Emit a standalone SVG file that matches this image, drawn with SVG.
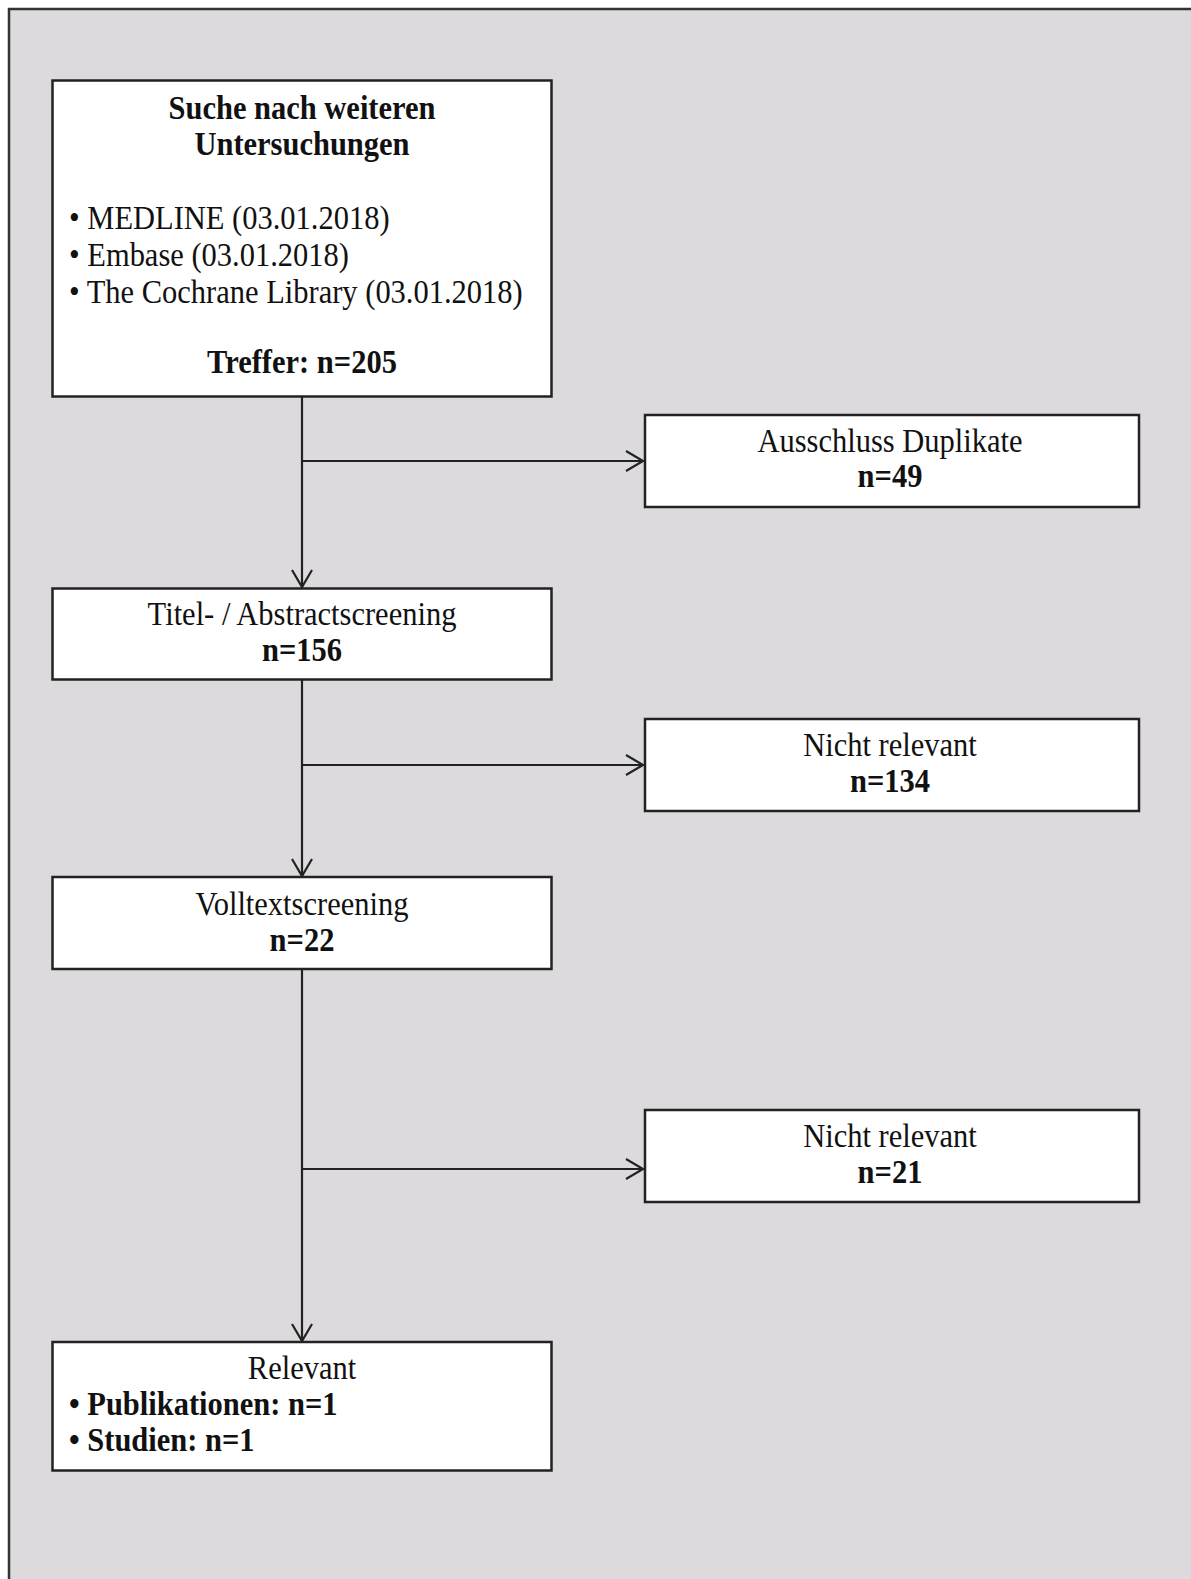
<svg xmlns="http://www.w3.org/2000/svg" width="1191" height="1579" viewBox="0 0 1191 1579">
<style>
  .frame { fill: #dcdadd; stroke: #333; stroke-width: 2.5; }
  .box { fill: #ffffff; stroke: #222; stroke-width: 2.5; }
  .t { font-family: "Liberation Serif", "Times New Roman", serif; font-size: 30.5px; fill: #111; }
  .c { text-anchor: middle; }
  .b { font-weight: bold; }
  .edge { fill: none; stroke: #222; stroke-width: 2.2; }
</style>
<defs>
  <marker id="arr" markerUnits="userSpaceOnUse" markerWidth="24" markerHeight="26" refX="19" refY="12" orient="auto">
    <path d="M2,2 L19,12 L2,22" fill="none" stroke="#222" stroke-width="2.2"/>
  </marker>
</defs>
<rect x="0" y="0" width="1191" height="1579" fill="#ffffff"/>
<rect class="frame" x="9" y="9" width="1200" height="1600"/>

<g id="connectors">
  <line class="edge" x1="302" y1="397" x2="302" y2="587" marker-end="url(#arr)"/>
  <line class="edge" x1="302" y1="461" x2="643" y2="461" marker-end="url(#arr)"/>
  <line class="edge" x1="302" y1="680" x2="302" y2="876" marker-end="url(#arr)"/>
  <line class="edge" x1="302" y1="765" x2="643" y2="765" marker-end="url(#arr)"/>
  <line class="edge" x1="302" y1="969" x2="302" y2="1341" marker-end="url(#arr)"/>
  <line class="edge" x1="302" y1="1169" x2="643" y2="1169" marker-end="url(#arr)"/>
</g>

<g id="node-search">
  <rect class="box" x="52.5" y="80.5" width="499" height="316"/>
  <text class="t c b" transform="translate(302 119) scale(1 1.1)">Suche nach weiteren</text>
  <text class="t c b" transform="translate(302 155) scale(1 1.1)">Untersuchungen</text>
  <text class="t" transform="translate(69 229) scale(1 1.1)">• MEDLINE (03.01.2018)</text>
  <text class="t" transform="translate(69 266) scale(1 1.1)">• Embase (03.01.2018)</text>
  <text class="t" transform="translate(69 303) scale(1 1.1)">• The Cochrane Library (03.01.2018)</text>
  <text class="t c b" transform="translate(302 373) scale(1 1.1)">Treffer: n=205</text>
</g>

<g id="node-duplicates">
  <rect class="box" x="645" y="415" width="494" height="92"/>
  <text class="t c" transform="translate(890 452) scale(1 1.1)">Ausschluss Duplikate</text>
  <text class="t c b" transform="translate(890 487) scale(1 1.1)">n=49</text>
</g>

<g id="node-title">
  <rect class="box" x="52.5" y="588.5" width="499" height="91"/>
  <text class="t c" transform="translate(302 625) scale(1 1.1)">Titel- / Abstractscreening</text>
  <text class="t c b" transform="translate(302 661) scale(1 1.1)">n=156</text>
</g>

<g id="node-notrelevant1">
  <rect class="box" x="645" y="719" width="494" height="92"/>
  <text class="t c" transform="translate(890 756) scale(1 1.1)">Nicht relevant</text>
  <text class="t c b" transform="translate(890 792) scale(1 1.1)">n=134</text>
</g>

<g id="node-fulltext">
  <rect class="box" x="52.5" y="877" width="499" height="92"/>
  <text class="t c" transform="translate(302 915) scale(1 1.1)">Volltextscreening</text>
  <text class="t c b" transform="translate(302 951) scale(1 1.1)">n=22</text>
</g>

<g id="node-notrelevant2">
  <rect class="box" x="645" y="1110" width="494" height="92"/>
  <text class="t c" transform="translate(890 1147) scale(1 1.1)">Nicht relevant</text>
  <text class="t c b" transform="translate(890 1183) scale(1 1.1)">n=21</text>
</g>

<g id="node-relevant">
  <rect class="box" x="52.5" y="1342" width="499" height="128.5"/>
  <text class="t c" transform="translate(302 1379) scale(1 1.1)">Relevant</text>
  <text class="t b" transform="translate(69 1415) scale(1 1.1)">• Publikationen: n=1</text>
  <text class="t b" transform="translate(69 1451) scale(1 1.1)">• Studien: n=1</text>
</g>
</svg>
